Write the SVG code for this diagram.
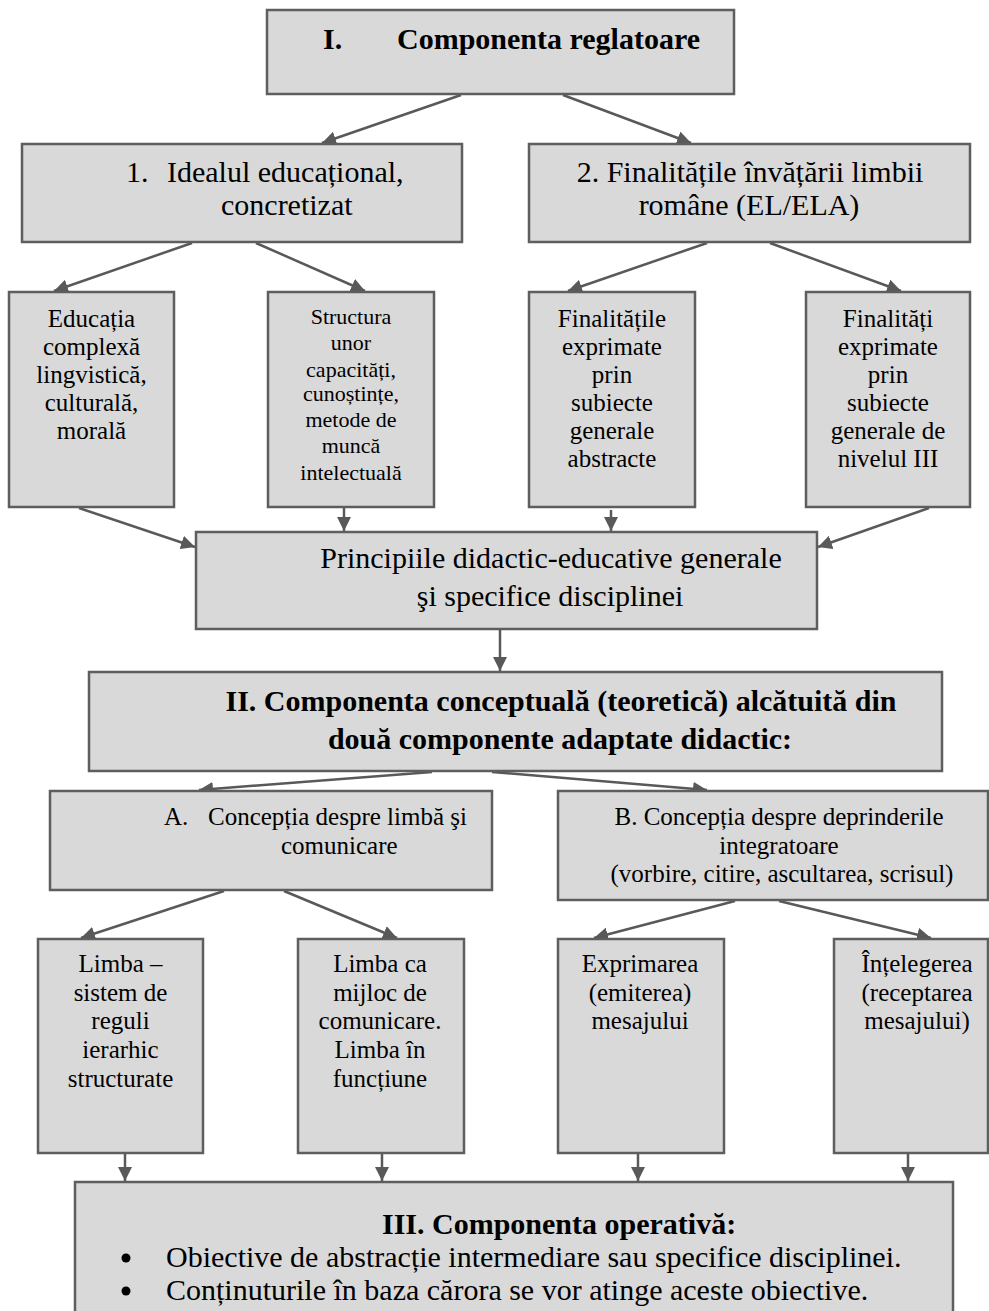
<svg xmlns="http://www.w3.org/2000/svg" width="989" height="1311" viewBox="0 0 989 1311">
<defs>
<style>
.box{fill:#d9d9d9;stroke:#5e5e5e;stroke-width:2.5}
.t{font-family:"Liberation Serif","Times New Roman",serif;fill:#000}
.b{font-weight:bold}
.c{text-anchor:middle}
.s30{font-size:30px}
.s25{font-size:25px}
.s22{font-size:22px}
.con line{stroke:#595959;stroke-width:2.5;marker-end:url(#ah)}
</style>
<marker id="ah" markerUnits="userSpaceOnUse" markerWidth="14" markerHeight="14" viewBox="0 0 12 12" refX="12" refY="6" orient="auto">
<path d="M0,0 L12,6 L0,12 z" fill="#595959"/>
</marker>
</defs>
<rect width="989" height="1311" fill="#fff"/>

<g id="connectors" class="con">
<line x1="461" y1="95" x2="322" y2="143"/>
<line x1="563" y1="95" x2="691" y2="143"/>
<line x1="192" y1="243" x2="54" y2="291"/>
<line x1="256" y1="243" x2="365" y2="291"/>
<line x1="707" y1="243" x2="568" y2="291"/>
<line x1="770" y1="243" x2="901" y2="291"/>
<line x1="79" y1="508" x2="195" y2="547"/>
<line x1="344" y1="508" x2="344" y2="531"/>
<line x1="611" y1="510" x2="611" y2="531"/>
<line x1="929" y1="508" x2="818" y2="547"/>
<line x1="500" y1="630" x2="500" y2="671"/>
<line x1="432" y1="772" x2="199" y2="790"/>
<line x1="492" y1="772" x2="707" y2="790"/>
<line x1="224" y1="891" x2="81" y2="938"/>
<line x1="284" y1="891" x2="397" y2="938"/>
<line x1="735" y1="901" x2="594" y2="938"/>
<line x1="779" y1="901" x2="931" y2="938"/>
<line x1="125" y1="1154" x2="125" y2="1181"/>
<line x1="382" y1="1154" x2="382" y2="1181"/>
<line x1="638" y1="1154" x2="638" y2="1181"/>
<line x1="908" y1="1154" x2="908" y2="1181"/>
</g>

<g id="n-top">
<rect class="box" x="267" y="10" width="467" height="84"/>
<text class="t b s30" y="49"><tspan x="323">I.</tspan><tspan x="397">Componenta reglatoare</tspan></text>
</g>

<g id="n-1">
<rect class="box" x="22" y="144" width="440" height="98"/>
<text class="t s30" y="182"><tspan x="126">1.</tspan><tspan x="167">Idealul educațional,</tspan></text>
<text class="t s30" x="221" y="215">concretizat</text>
</g>

<g id="n-2">
<rect class="box" x="529" y="144" width="441" height="98"/>
<text class="t s30 c" x="750" y="182">2. Finalitățile învățării limbii</text>
<text class="t s30 c" x="749" y="215">române (EL/ELA)</text>
</g>

<g id="n-a">
<rect class="box" x="9" y="292" width="165" height="215"/>
<text class="t s25 c" x="91.5" y="327">Educația</text>
<text class="t s25 c" x="91.5" y="355">complexă</text>
<text class="t s25 c" x="91.5" y="383">lingvistică,</text>
<text class="t s25 c" x="91.5" y="411">culturală,</text>
<text class="t s25 c" x="91.5" y="439">morală</text>
</g>

<g id="n-b">
<rect class="box" x="268" y="292" width="166" height="215"/>
<text class="t s22 c" x="351" y="324">Structura</text>
<text class="t s22 c" x="351" y="350">unor</text>
<text class="t s22 c" x="351" y="377">capacități,</text>
<text class="t s22 c" x="351" y="401">cunoștințe,</text>
<text class="t s22 c" x="351" y="427">metode de</text>
<text class="t s22 c" x="351" y="453">muncă</text>
<text class="t s22 c" x="351" y="480">intelectuală</text>
</g>

<g id="n-c">
<rect class="box" x="529" y="292" width="166" height="215"/>
<text class="t s25 c" x="612" y="327">Finalitățile</text>
<text class="t s25 c" x="612" y="355">exprimate</text>
<text class="t s25 c" x="612" y="383">prin</text>
<text class="t s25 c" x="612" y="411">subiecte</text>
<text class="t s25 c" x="612" y="439">generale</text>
<text class="t s25 c" x="612" y="467">abstracte</text>
</g>

<g id="n-d">
<rect class="box" x="806" y="292" width="164" height="215"/>
<text class="t s25 c" x="888" y="327">Finalități</text>
<text class="t s25 c" x="888" y="355">exprimate</text>
<text class="t s25 c" x="888" y="383">prin</text>
<text class="t s25 c" x="888" y="411">subiecte</text>
<text class="t s25 c" x="888" y="439">generale de</text>
<text class="t s25 c" x="888" y="467">nivelul III</text>
</g>

<g id="n-p">
<rect class="box" x="196" y="532" width="621" height="97"/>
<text class="t s30 c" x="551" y="568">Principiile didactic-educative generale</text>
<text class="t s30 c" x="550" y="606">şi specifice disciplinei</text>
</g>

<g id="n-ii">
<rect class="box" x="89" y="672" width="853" height="99"/>
<text class="t b s30 c" x="561" y="711">II. Componenta conceptuală (teoretică) alcătuită din</text>
<text class="t b s30 c" x="560" y="749">două componente adaptate didactic:</text>
</g>

<g id="n-A">
<rect class="box" x="50" y="791" width="442" height="99"/>
<text class="t s25" y="825"><tspan x="164">A.</tspan><tspan x="208">Concepția despre limbă şi</tspan></text>
<text class="t s25" x="281" y="854">comunicare</text>
</g>

<g id="n-B">
<rect class="box" x="558" y="791" width="430" height="109"/>
<text class="t s25 c" x="779" y="825">B. Concepția despre deprinderile</text>
<text class="t s25 c" x="779" y="854">integratoare</text>
<text class="t s25 c" x="782" y="882">(vorbire, citire, ascultarea, scrisul)</text>
</g>

<g id="n-e">
<rect class="box" x="38" y="939" width="165" height="214"/>
<text class="t s25 c" x="120.5" y="972">Limba –</text>
<text class="t s25 c" x="120.5" y="1001">sistem de</text>
<text class="t s25 c" x="120.5" y="1029">reguli</text>
<text class="t s25 c" x="120.5" y="1058">ierarhic</text>
<text class="t s25 c" x="120.5" y="1087">structurate</text>
</g>

<g id="n-f">
<rect class="box" x="298" y="939" width="166" height="214"/>
<text class="t s25 c" x="380" y="972">Limba ca</text>
<text class="t s25 c" x="380" y="1001">mijloc de</text>
<text class="t s25 c" x="380" y="1029">comunicare.</text>
<text class="t s25 c" x="380" y="1058">Limba în</text>
<text class="t s25 c" x="380" y="1087">funcțiune</text>
</g>

<g id="n-g">
<rect class="box" x="558" y="939" width="166" height="214"/>
<text class="t s25 c" x="640" y="972">Exprimarea</text>
<text class="t s25 c" x="640" y="1001">(emiterea)</text>
<text class="t s25 c" x="640" y="1029">mesajului</text>
</g>

<g id="n-h">
<rect class="box" x="834" y="939" width="154" height="214"/>
<text class="t s25 c" x="917" y="972">Înțelegerea</text>
<text class="t s25 c" x="917" y="1001">(receptarea</text>
<text class="t s25 c" x="917" y="1029">mesajului)</text>
</g>

<g id="n-iii">
<rect class="box" x="75" y="1182" width="878" height="150"/>
<text class="t b s30" x="382" y="1234">III. Componenta operativă:</text>
<circle cx="126" cy="1258" r="4.5" fill="#000"/>
<text class="t s30" x="166" y="1267">Obiective de abstracție intermediare sau specifice disciplinei.</text>
<circle cx="126" cy="1291" r="4.5" fill="#000"/>
<text class="t s30" x="166" y="1300">Conținuturile în baza cărora se vor atinge aceste obiective.</text>
</g>
</svg>
